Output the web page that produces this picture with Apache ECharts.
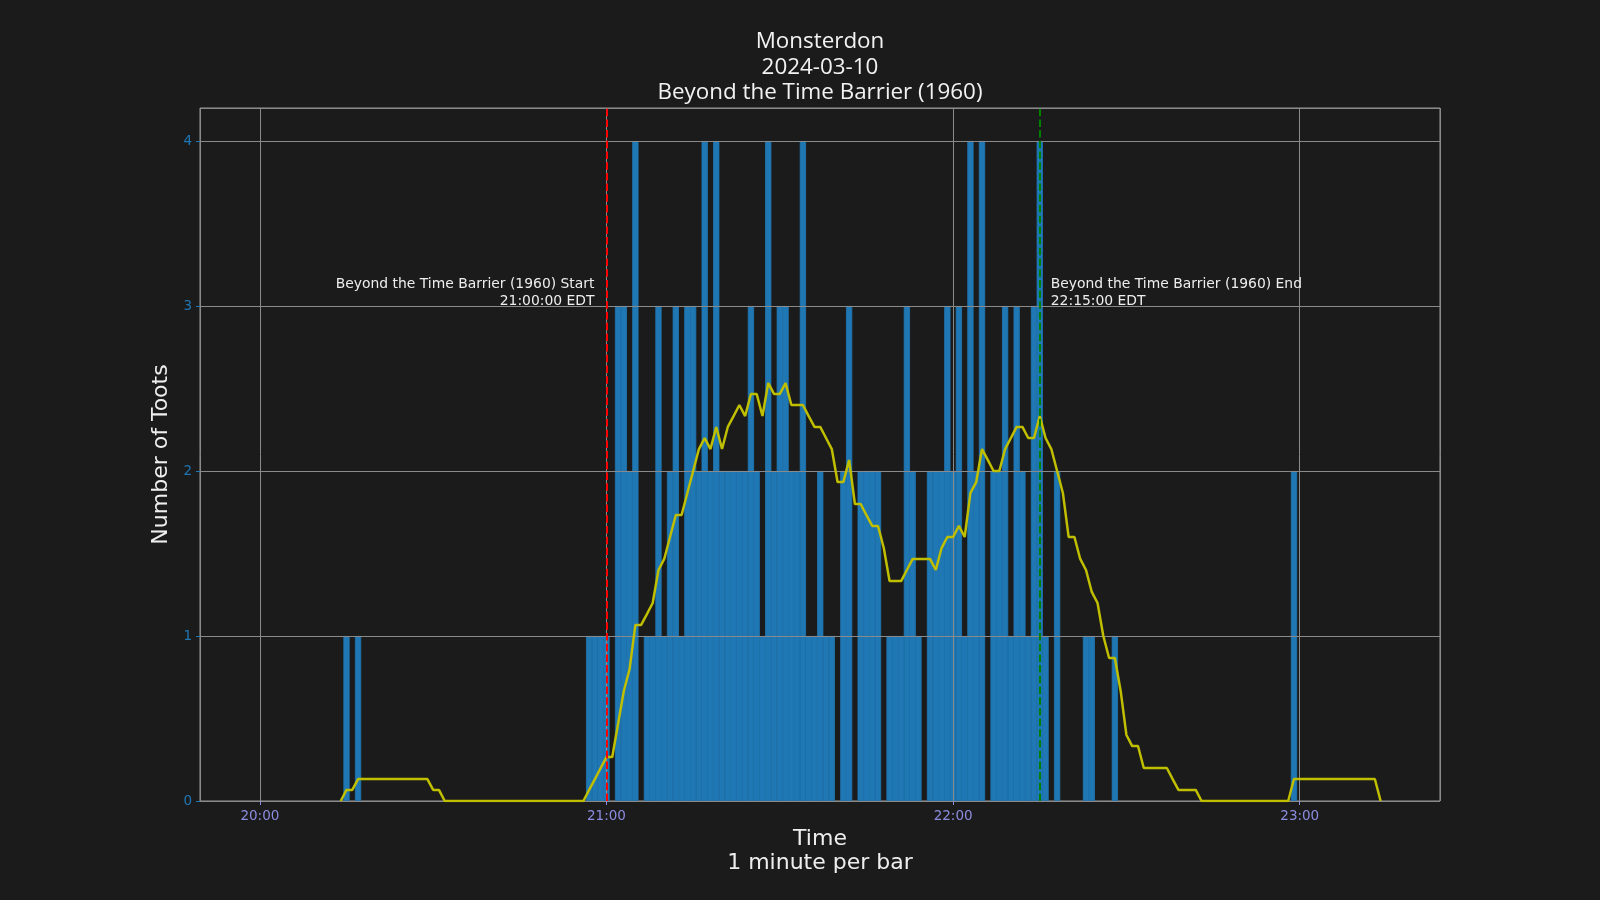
<!DOCTYPE html>
<html>
<head>
<meta charset="utf-8">
<title>Monsterdon</title>
<script src="https://cdn.jsdelivr.net/npm/echarts@6/dist/echarts.min.js"></script>
<style>
  html, body { margin: 0; padding: 0; background: #1b1b1b; }
  #chart { width: 1600px; height: 900px; }
</style>
</head>
<body>
<div id="chart"></div>
<script>
'use strict';
// toots per minute (minutes with no toots are left out)
var barTimes = ['20:15', '20:17', '20:57', '20:58', '20:59', '21:00', '21:02', '21:03', '21:04', '21:05',
    '21:07', '21:08', '21:09', '21:10', '21:11', '21:12', '21:13', '21:14', '21:15', '21:16',
    '21:17', '21:18', '21:19', '21:20', '21:21', '21:22', '21:23', '21:24', '21:25', '21:26',
    '21:27', '21:28', '21:29', '21:30', '21:31', '21:32', '21:33', '21:34', '21:35', '21:36',
    '21:37', '21:38', '21:39', '21:41', '21:42', '21:44', '21:45', '21:46', '21:47', '21:49',
    '21:50', '21:51', '21:52', '21:53', '21:54', '21:56', '21:57', '21:58', '21:59', '22:00',
    '22:01', '22:02', '22:03', '22:04', '22:05', '22:07', '22:08', '22:09', '22:10', '22:11',
    '22:12', '22:13', '22:14', '22:15', '22:16', '22:18', '22:23', '22:24', '22:28', '22:59'];
var barCounts = [1, 1, 1, 1, 1, 1, 3, 3, 2, 4,
    1, 1, 3, 1, 2, 3, 1, 3, 3, 2,
    4, 2, 4, 2, 2, 2, 2, 2, 3, 2,
    1, 4, 2, 3, 3, 2, 2, 4, 1, 1,
    2, 1, 1, 2, 3, 2, 2, 2, 2, 1,
    1, 1, 3, 2, 1, 2, 2, 2, 3, 2,
    3, 1, 4, 2, 4, 2, 2, 3, 1, 3,
    2, 1, 3, 4, 1, 2, 1, 1, 1, 2];

// 15 minute rolling average, one value per minute from 20:14
var avgStart = '20:14';
var avgValues = [0, 0.067, 0.067,
    0.133, 0.133, 0.133, 0.133, 0.133, 0.133, 0.133, 0.133, 0.133, 0.133, 0.133, 0.133, 0.133,
    0.067, 0.067,
    0, 0, 0, 0, 0, 0, 0, 0, 0, 0, 0, 0, 0, 0, 0, 0, 0, 0, 0, 0, 0, 0, 0, 0, 0,
    0.067, 0.133, 0.2, 0.267, 0.267, 0.467, 0.667, 0.8, 1.067, 1.067, 1.133, 1.2, 1.4, 1.467, 1.6,
    1.733, 1.733, 1.867, 2.0, 2.133, 2.2, 2.133, 2.267, 2.133, 2.267,
    2.333, 2.4, 2.333, 2.467, 2.467, 2.333, 2.533, 2.467, 2.467, 2.533,
    2.4, 2.4, 2.4, 2.333, 2.267, 2.267, 2.2, 2.133, 1.933, 1.933,
    2.067, 1.8, 1.8, 1.733, 1.667, 1.667, 1.533, 1.333, 1.333, 1.333,
    1.4, 1.467, 1.467, 1.467, 1.467, 1.4, 1.533, 1.6, 1.6, 1.667,
    1.6, 1.867, 1.933, 2.133, 2.067, 2.0, 2.0, 2.133, 2.2, 2.267,
    2.267, 2.2, 2.2, 2.333, 2.2, 2.133, 2.0, 1.867, 1.6, 1.6,
    1.467, 1.4, 1.267, 1.2, 1.0, 0.867, 0.867, 0.667, 0.4, 0.333,
    0.333, 0.2, 0.2, 0.2, 0.2, 0.2, 0.133, 0.067, 0.067, 0.067, 0.067,
    0, 0, 0, 0, 0, 0, 0, 0, 0, 0, 0, 0, 0, 0, 0, 0,
    0.133, 0.133, 0.133, 0.133, 0.133, 0.133, 0.133, 0.133, 0.133, 0.133, 0.133, 0.133, 0.133, 0.133, 0.133,
    0];

var movieTitle = 'Beyond the Time Barrier (1960)';
var movieStart = '21:00';
var movieEnd = '22:15';
// echarts widens a bar axis by about one bar, so these sit a bit inside 19:49:45 - 23:24:10
var xMin = '19:50:17';
var xMax = '23:23:38';
var yTicks = [0, 1, 2, 3, 4];

function t(hhmm) {
    var p = hhmm.split(':');
    return new Date(2024, 2, 10, +p[0], +p[1], +(p[2] || 0)).getTime();
}

var barData = barTimes.map(function(s, i) { return [t(s), barCounts[i]]; });
var t0 = t(avgStart);
var avgData = avgValues.map(function(v, i) { return [t0 + i * 60000, v]; });

var font = 'DejaVu Sans';
var labelStyle = { color: '#eeeeee', fontFamily: font, fontSize: 13.9, lineHeight: 16.3 };
var chart = echarts.init(document.getElementById('chart'));
chart.setOption({
    backgroundColor: '#1b1b1b',
    animation: false,
    title: {
        text: 'Monsterdon\n2024-03-10\n' + movieTitle,
        left: 820,
        textAlign: 'center',
        top: 29,
        padding: 0,
        textStyle: {
            color: '#f2f2f2',
            fontFamily: 'Open Sans',
            fontWeight: 'normal',
            fontSize: 22.4,
            lineHeight: 25.5
        }
    },
    grid: {
        left: 200, right: 160, top: 108, bottom: 99,
        show: true,
        borderColor: '#9a9a9a',
        borderWidth: 1,
        backgroundColor: 'transparent'
    },
    xAxis: {
        type: 'time',
        z: 3,
        min: t(xMin),
        max: t(xMax),
        minInterval: 3600000,
        maxInterval: 3600000,
        name: 'Time\n1 minute per bar',
        nameLocation: 'middle',
        nameGap: 26,
        nameTextStyle: { color: '#eeeeee', fontFamily: font, fontSize: 22, lineHeight: 23.5 },
        axisLine: { show: false },
        axisTick: { show: true, length: 4, lineStyle: { color: '#8c8ce0' } },
        axisLabel: {
            formatter: '{HH}:{mm}',
            color: '#8c8ce0',
            fontFamily: font,
            fontSize: 13.5,
            margin: 8,
            showMinLabel: false,
            showMaxLabel: false
        },
        splitLine: { show: true, lineStyle: { color: '#8a8a8a', width: 1 } }
    },
    yAxis: {
        type: 'value',
        z: 3,
        min: 0,
        max: 4.2,
        interval: 1,
        name: 'Number of Toots',
        nameLocation: 'middle',
        nameRotate: 90,
        nameGap: 23,
        nameTextStyle: { color: '#eeeeee', fontFamily: font, fontSize: 22 },
        axisLine: { show: false },
        axisTick: { show: true, length: 4, lineStyle: { color: '#1f77b4' } },
        axisLabel: {
            color: '#1f77b4',
            fontFamily: font,
            fontSize: 13.5,
            margin: 8,
            showMaxLabel: false,
            formatter: function(v) { return yTicks.indexOf(v) >= 0 ? String(v) : ''; }
        },
        splitLine: { show: true, lineStyle: { color: '#8a8a8a', width: 1 } }
    },
    series: [{
        type: 'bar',
        z: 2,
        data: barData,
        barWidth: '108%',
        itemStyle: { color: '#1f77b4', borderColor: '#1f77b4', borderWidth: 0.8 },
        markLine: {
            silent: true,
            symbol: 'none',
            z: 6,
            label: { show: false },
            data: [
                { xAxis: t(movieStart), lineStyle: { color: '#ff0000', type: [7.5, 3.2], width: 2 } },
                { xAxis: t(movieEnd), lineStyle: { color: '#008000', type: [7.5, 3.2], width: 2 } }
            ]
        },
        markPoint: {
            silent: true,
            symbol: 'circle',
            symbolSize: 0,
            data: [
                {
                    coord: [t(movieStart), 3.08],
                    label: Object.assign({
                        show: true,
                        position: 'left',
                        distance: 12,
                        align: 'right',
                        formatter: movieTitle + ' Start\n' + movieStart + ':00 EDT'
                    }, labelStyle)
                },
                {
                    coord: [t(movieEnd), 3.08],
                    label: Object.assign({
                        show: true,
                        position: 'right',
                        distance: 11,
                        align: 'left',
                        formatter: movieTitle + ' End\n' + movieEnd + ':00 EDT'
                    }, labelStyle)
                }
            ]
        }
    }, {
        type: 'line',
        data: avgData,
        showSymbol: false,
        symbol: 'none',
        z: 5,
        lineStyle: { color: '#bfbf00', width: 2.5 },
        itemStyle: { color: '#bfbf00' }
    }]
});
window.onresize = function() { chart.resize(); };
</script>
</body>
</html>
